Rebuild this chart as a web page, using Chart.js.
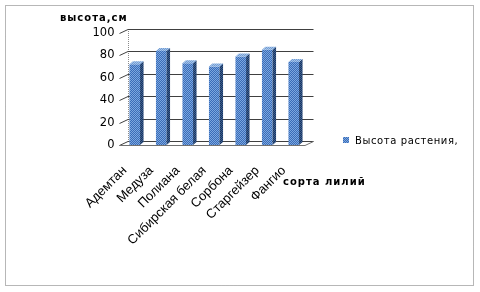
<!DOCTYPE html>
<html>
<head>
<meta charset="utf-8">
<style>
  html, body { margin: 0; padding: 0; background: #fff; }
  #wrap { position: relative; width: 480px; height: 292px; }
</style>
</head>
<body>
<div id="wrap">
  <canvas id="myChart" width="480" height="292"></canvas>
</div>

<script src="https://cdn.jsdelivr.net/npm/chart.js"></script>

<script>
  // данные
  const sorts = ['Адемтан', 'Медуза', 'Полиана', 'Сибирская белая', 'Сорбона', 'Старгейзер', 'Фангио'];
  const heights = [72, 84, 73, 70, 79, 85, 74];
  const yTicks = [0, 20, 40, 60, 80, 100];
  const seriesName = 'Высота растения,';
  const yTitle = 'высота,см';
  const xTitle = 'сорта лилий';

  // 3d offsets
  const DX = 3.5, DY = 3;     // bar depth
  const WX = 6.5, WY = 4;     // back wall

  function makePattern(c1, c2) {
    const p = document.createElement('canvas');
    p.width = 2; p.height = 2;
    const g = p.getContext('2d');
    g.fillStyle = c1; g.fillRect(0, 0, 2, 2);
    g.fillStyle = c2; g.fillRect(0, 0, 1, 1); g.fillRect(1, 1, 1, 1);
    return g.createPattern(p, 'repeat');
  }

  const ctx = document.getElementById('myChart');
  const frontFill = makePattern('#3a6cb8', '#7ca7df');
  const sideFill = makePattern('#1b355e', '#3b5f92');
  const topFill = makePattern('#6f9bd3', '#a9c6ea');

  // стенки и сетка
  const wallPlugin = {
    id: 'wall',
    beforeDatasetsDraw(chart) {
      const g = chart.ctx, a = chart.chartArea, ys = chart.scales.y;
      g.save();
      g.lineWidth = 1;
      // left wall edge
      g.strokeStyle = '#8a8a8a';
      g.setLineDash([1, 1]);
      g.beginPath();
      g.moveTo(Math.round(a.left + WX) + 0.5, ys.getPixelForValue(100) - WY);
      g.lineTo(Math.round(a.left + WX) + 0.5, ys.getPixelForValue(0) - WY);
      g.stroke();
      g.setLineDash([]);
      g.strokeStyle = '#404040';
      yTicks.forEach(v => {
        const y = Math.round(ys.getPixelForValue(v)) + 0.5;
        g.beginPath();
        g.moveTo(a.left - 2, y);
        g.lineTo(a.left + WX, y - WY);
        g.lineTo(a.right + WX, y - WY);
        g.stroke();
      });
      // floor front edge
      const y0 = Math.round(ys.getPixelForValue(0)) + 0.5;
      g.strokeStyle = '#707070';
      g.beginPath();
      g.moveTo(a.left - 2, y0);
      g.lineTo(a.right - 2, y0);
      g.lineTo(a.right + WX, y0 - WY);
      g.stroke();
      g.restore();
    },
    afterDatasetsDraw(chart) {
      const g = chart.ctx;
      const meta = chart.getDatasetMeta(0);
      g.save();
      meta.data.forEach(bar => {
        const l = bar.x - bar.width / 2, r = bar.x + bar.width / 2;
        const t = bar.y, b = bar.base;
        g.fillStyle = sideFill;
        g.beginPath();
        g.moveTo(r, t); g.lineTo(r + DX, t - DY); g.lineTo(r + DX, b - DY); g.lineTo(r, b);
        g.closePath(); g.fill();
        g.fillStyle = topFill;
        g.beginPath();
        g.moveTo(l, t); g.lineTo(l + DX, t - DY); g.lineTo(r + DX, t - DY); g.lineTo(r, t);
        g.closePath(); g.fill();
      });
      g.restore();
    },
    afterDraw(chart) {
      const g = chart.ctx;
      g.save();
      // рамка
      g.strokeStyle = '#6e6e6e';
      g.setLineDash([1, 1]);
      g.strokeRect(5.5, 5.5, 468, 280);
      g.setLineDash([]);
      // подписи осей
      g.fillStyle = '#000';
      g.textBaseline = 'middle';
      g.font = 'bold 10px "DejaVu Sans"';
      g.letterSpacing = '1px';
      g.fillText(yTitle, 60, 18);
      g.fillText(xTitle, 283, 182);
      // легенда
      g.fillStyle = frontFill;
      g.fillRect(343, 137, 6, 6);
      g.fillStyle = '#000';
      g.font = '10px "DejaVu Sans"';
      g.letterSpacing = '0.6px';
      g.fillText(chart.data.datasets[0].label, 355, 141);
      g.restore();
    }
  };

  const data = {
    labels: sorts,
    datasets: [{
      label: seriesName,
      data: heights,
      backgroundColor: frontFill,
      borderWidth: 0,
      barPercentage: 0.4,
      categoryPercentage: 1
    }]
  };

  const config = {
    type: 'bar',
    data: data,
    plugins: [wallPlugin],
    options: {
      responsive: false,
      animation: false,
      layout: { padding: { left: 0, right: 173, top: 33, bottom: 0 } },
      plugins: {
        legend: { display: false },
        tooltip: { enabled: false }
      },
      scales: {
        x: {
          grid: { display: false },
          border: { display: false },
          afterFit: s => { s.height = 147; },
          ticks: {
            color: '#000',
            font: { family: 'Liberation Sans', size: 13 },
            minRotation: 45,
            maxRotation: 45,
            autoSkip: false,
            padding: 10,
            labelOffset: -10
          }
        },
        y: {
          min: 0,
          max: 100,
          afterFit: s => { s.width = 121.5; },
          afterBuildTicks: s => { s.ticks = yTicks.map(v => ({ value: v })); },
          grid: { display: false, drawTicks: false },
          border: { display: false },
          ticks: {
            color: '#000',
            font: { family: 'DejaVu Sans', size: 11.5 },
            padding: 7
          }
        }
      }
    }
  };

  new Chart(ctx, config);
</script>
</body>
</html>
